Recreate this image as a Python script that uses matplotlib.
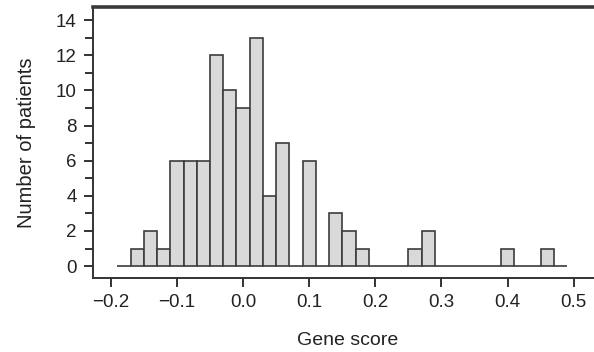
import numpy as np
import matplotlib.pyplot as plt

plt.rcParams['font.family'] = ['Liberation Sans', 'DejaVu Sans']

# histogram of gene scores, bins of width 0.02 starting at -0.19
bin_start = -0.19
bin_width = 0.02
counts = [0, 1, 2, 1, 6, 6, 6, 12, 10, 9,
          13, 4, 7, 0, 6, 0, 3, 2, 1, 0,
          0, 0, 1, 2, 0, 0, 0, 0, 0, 1,
          0, 0, 1, 0]
x_ticks = [-0.2, -0.1, 0.0, 0.1, 0.2, 0.3, 0.4, 0.5]
x_labels = ["\u22120.2", "\u22120.1", "0.0", "0.1", "0.2", "0.3", "0.4", "0.5"]
y_ticks = [0, 2, 4, 6, 8, 10, 12, 14]

lefts = bin_start + bin_width * np.arange(len(counts))

fig = plt.figure(figsize=(5.94, 3.52), dpi=100)
ax = fig.add_axes([0.156, 0.21, 0.86, 0.77])

ax.bar(lefts, counts, width=bin_width, align="edge",
       color="#d9d9d9", edgecolor="#3c3c3c", linewidth=1.2)

ax.set_xlim(-0.2275, 0.545)
ax.set_ylim(-0.68, 14.74)
ax.set_xticks(x_ticks)
ax.set_xticklabels(x_labels)
ax.set_yticks(y_ticks)
ax.set_yticks(np.arange(1, 15, 2), minor=True)

ax.tick_params(axis="both", which="major", direction="out", length=6.5, width=1.4,
               color="#333333", labelsize=13.5, labelcolor="#222222", pad=5)
ax.tick_params(axis="y", which="minor", direction="out", length=5.5, width=1.4,
               color="#333333")

for side in ["left", "bottom"]:
    ax.spines[side].set_linewidth(1.4)
    ax.spines[side].set_color("#333333")
ax.spines["top"].set_linewidth(2.6)
ax.spines["top"].set_color("#3a3a3a")
ax.spines["right"].set_visible(False)

ax.set_xlabel("Gene score", fontsize=14, color="#222222", labelpad=15)
ax.set_ylabel("Number of patients", fontsize=14.5, color="#222222", labelpad=14)

fig.savefig("out.png", dpi=100)
